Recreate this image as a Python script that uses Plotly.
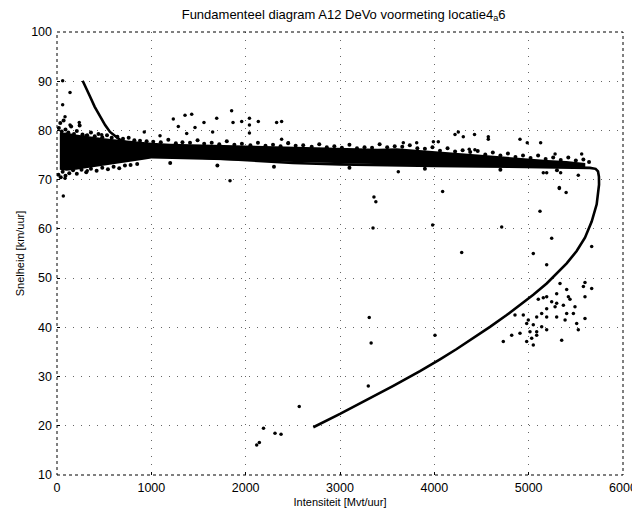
import plotly.graph_objects as go

# ---- fitted fundamental-diagram curve ----
curve_x = [272, 310, 350, 400, 456, 510, 562, 615, 668, 740, 809, 900, 986, 1200, 1500, 2000,
           2500, 3000, 3500, 4000, 4500, 5000, 5500, 5650, 5710, 5735, 5745, 5746, 5721, 5668,
           5597, 5509, 5403, 5297, 5191, 5049, 4908, 4767, 4590, 4413, 4237, 4060, 3848, 3565,
           3283, 3000, 2717]
curve_y = [90.1, 88.4, 86.9, 84.8, 82.8, 81.1, 79.7, 78.8, 78.1, 77.5, 77.0, 76.5, 76.0, 75.2,
           74.5, 73.9, 73.4, 73.1, 72.9, 72.8, 72.7, 72.6, 72.5, 72.4, 72.2, 71.7, 70.6, 69.0,
           65.0, 61.5, 58.2, 55.5, 53.0, 50.9, 48.9, 46.6, 44.5, 42.5, 40.1, 37.8, 35.6, 33.5,
           31.1, 28.1, 25.2, 22.4, 19.7]

# ---- dense free-flow band envelope (core of measurement cloud) ----
core_up_x = [30, 100, 200, 300, 400, 500, 600, 700, 800, 900, 1000, 1200, 1400, 1600, 1800,
             2000, 2200, 2400, 2600, 2800, 3000, 3200, 3400, 3600, 3800, 4000, 4200, 4400,
             4600, 4800, 5000, 5200, 5400, 5600]
core_up_y = [79.5, 79.6, 79.2, 78.9, 78.7, 78.4, 78.2, 78.0, 77.8, 77.6, 77.5, 77.3, 77.2, 77.1,
             77.0, 76.9, 76.8, 76.7, 76.6, 76.5, 76.4, 76.3, 76.3, 76.4, 76.1, 75.8, 75.5, 75.2,
             74.8, 74.5, 74.2, 74.0, 73.8, 73.4]
core_lo_x = [5600, 5400, 5200, 5000, 4800, 4600, 4400, 4200, 4000, 3800, 3600, 3400, 3200, 3000,
             2800, 2600, 2400, 2200, 2000, 1800, 1600, 1400, 1200, 1000, 900, 800, 700, 600, 500,
             400, 300, 200, 100, 30]
core_lo_y = [72.5, 72.6, 72.6, 72.7, 72.7, 72.8, 72.8, 72.9, 72.9, 73.0, 73.0, 73.1, 73.2, 73.3,
             73.4, 73.5, 73.6, 73.7, 73.8, 73.9, 74.0, 74.1, 74.2, 74.3, 74.0, 73.7, 73.4, 73.1,
             72.8, 72.6, 72.3, 72.0, 71.8, 72.0]

# ---- measurements along the band edges ----
band_x = [20, 35, 50, 70, 90, 120, 150, 180, 210, 240, 270, 320, 360, 400, 440, 480, 530, 580,
          640, 700, 760, 820, 880,
          15, 40, 60, 90, 130, 170, 210, 260, 310, 360, 420, 480, 540, 600, 660, 720, 780, 850,
          950, 1020, 1100, 1180, 1260, 1330, 1410, 1490, 1560, 1640, 1720, 1800, 1880, 1960,
          2050, 2130, 2210, 2290, 2370, 2450, 2530, 2610, 2700, 2780, 2860, 2940, 3020, 3100,
          3180, 3260, 3340, 3420, 3500, 3580, 3660, 3740, 3820, 3900, 3980, 4060, 4140, 4220,
          4300, 4380, 4460,
          4540, 4620, 4700, 4780, 4860, 4940, 5020, 5100, 5180, 5260, 5340, 5420, 5500, 5580, 5640,
          1200, 1700, 2300, 3100, 3900, 4700, 5300]
band_y = [80.5, 81.5, 79.8, 82.0, 80.2, 79.6, 80.8, 79.3, 79.9, 81.0, 79.2, 79.0, 79.6, 78.8,
          79.3, 78.6, 79.0, 78.5, 78.7, 78.3, 78.5, 78.0, 77.9,
          71.0, 70.5, 71.6, 70.8, 71.3, 71.9, 71.2, 72.0, 71.5, 72.2, 71.8, 72.4, 72.1, 72.6,
          72.3, 72.9, 73.0, 73.2,
          77.8, 77.7, 77.6, 78.1, 77.4, 77.6, 77.5, 78.0, 77.3, 77.5, 77.2, 77.8, 77.1, 77.3,
          77.0, 77.5, 76.9, 77.1, 76.8, 77.4, 76.9, 77.0, 76.7, 77.2, 76.6, 76.8, 76.5, 77.1,
          76.4, 76.6, 76.5, 77.2, 76.6, 76.8, 76.7, 77.0, 76.4, 76.3, 76.6, 75.9, 76.4, 75.7,
          76.0, 75.6, 75.8,
          75.1, 75.5, 74.9, 75.3, 74.6, 74.9, 74.4, 74.9, 74.2, 74.5, 74.0, 74.5, 73.9, 74.1, 73.6,
          73.4, 72.9, 72.6, 72.4, 72.2, 72.0, 71.9]

# ---- scattered measurements (outliers and congested cluster) ----
pts_x = [60, 138, 60, 85, 138, 236, 307, 474, 350, 925, 1092,
         1233, 1357, 1428, 1286, 1375, 1463, 1558, 1650, 1693, 1851, 1866, 1958, 2040, 2040,
         2040, 2134, 2328, 2381, 2381, 2452,
         4219, 4254, 4307, 4426, 4572, 4572, 4908, 4985, 5127, 3813, 3671, 3990, 4042, 4370,
         4430, 5280, 5562,
         1834, 321, 67, 85, 3618, 5155, 5191, 5339, 5526, 5325,
         4088, 3982, 4290, 4714, 5120, 5325, 5397, 5244, 5668, 5049, 5191, 4007,
         3360, 3380, 3350, 3310, 3330,
         2117, 2145, 2189, 2311, 2375, 2568, 3300,
         5332, 5403, 5297, 5191, 5155, 5102, 5421, 5438, 5244, 5297, 5368, 5280, 5597, 5580,
         5668, 5597, 5491, 5474, 5403, 5191, 5138, 5085, 5191, 5297, 5386, 4855, 4943, 4996,
         4979, 5049, 5138, 5191, 5085, 5014, 4908, 4820, 5085, 5032, 4979, 5049, 4731, 5350,
         5526, 5597, 5509]
pts_y = [90.1, 87.7, 85.2, 82.8, 81.1, 81.6, 78.9, 79.1, 78.3, 79.7, 78.9,
         82.3, 83.1, 83.3, 80.8, 79.4, 80.6, 81.6, 79.7, 82.5, 84.0, 81.6, 81.8, 82.5, 81.1,
         79.5, 81.8, 81.6, 81.8, 78.2, 77.5,
         79.2, 79.7, 78.7, 79.2, 78.7, 78.2, 78.2, 77.5, 77.5, 77.5, 77.5, 77.7, 77.7, 76.2,
         76.1, 75.2, 75.2,
         69.8, 71.8, 66.7, 70.3, 71.6, 71.4, 71.4, 71.4, 70.9, 68.4,
         67.6, 60.8, 55.2, 60.4, 63.6, 68.2, 67.4, 58.1, 56.4, 55.0, 52.7, 38.4,
         66.5, 65.5, 60.2, 42.0, 36.8,
         16.1, 16.6, 19.5, 18.5, 18.3, 23.9, 28.1,
         48.9, 47.7, 46.8, 46.2, 46.0, 45.7, 46.2, 45.7, 45.2, 44.9, 44.5, 44.2, 46.2, 48.3,
         47.9, 49.1, 44.2, 42.8, 42.8, 43.8, 42.8, 42.1, 42.1, 42.1, 41.5, 42.5, 42.5, 41.5,
         40.8, 40.5, 40.1, 39.5, 39.1, 39.1, 38.8, 38.4, 38.4, 37.8, 37.1, 36.4, 37.1, 37.4,
         39.5, 41.8, 40.8]

title_text = "Fundamenteel diagram A12 DeVo voormeting locatie4<sub>a</sub>6"
x_title = "Intensiteit [Mvt/uur]"
y_title = "Snelheid [km/uur]"
x_ticks = [0, 1000, 2000, 3000, 4000, 5000, 6000]
y_ticks = [10, 20, 30, 40, 50, 60, 70, 80, 90, 100]

FONT = "Liberation Sans, Arial, sans-serif"

fig = go.Figure()

fig.add_trace(go.Scatter(
    x=core_up_x + core_lo_x, y=core_up_y + core_lo_y,
    mode="lines", fill="toself", fillcolor="black",
    line=dict(width=0, color="black"), hoverinfo="skip", showlegend=False))

fig.add_trace(go.Scatter(
    x=band_x, y=band_y, mode="markers",
    marker=dict(size=4, color="black", line=dict(width=0)), showlegend=False))

fig.add_trace(go.Scatter(
    x=pts_x, y=pts_y, mode="markers",
    marker=dict(size=3.5, color="black", line=dict(width=0)), showlegend=False))

fig.add_trace(go.Scatter(
    x=curve_x, y=curve_y, mode="lines",
    line=dict(width=2.6, color="black"), showlegend=False))

axis_common = dict(
    showgrid=True, gridcolor="#666666", griddash="1px,7px", gridwidth=1,
    zeroline=False, showline=False, ticks="inside", ticklen=3, tickcolor="black",
    tickfont=dict(family=FONT, size=12.5, color="black"), automargin=False,
)

# the page body has an 8px margin, so the figure is sized/offset to compensate
fig.update_layout(
    width=632, height=510,
    margin=dict(l=49, r=17, t=24, b=43),
    paper_bgcolor="white", plot_bgcolor="white",
    title=dict(text=title_text, x=0.531, xanchor="center", y=0.997, yanchor="top",
               font=dict(family=FONT, size=13, color="black")),
    xaxis=dict(range=[0, 6000], tickvals=x_ticks, ticklabelstandoff=3,
               title=dict(text=x_title, standoff=4, font=dict(family=FONT, size=11, color="black")),
               **axis_common),
    yaxis=dict(range=[10, 100], tickvals=y_ticks, ticklabelstandoff=4,
               title=dict(text=y_title, standoff=4, font=dict(family=FONT, size=11, color="black")),
               **axis_common),
    shapes=[dict(type="rect", xref="paper", yref="paper", x0=0, x1=1, y0=0, y1=1,
                 line=dict(color="black", width=1, dash="dot"), layer="above")],
)

fig.write_html("out.html")
